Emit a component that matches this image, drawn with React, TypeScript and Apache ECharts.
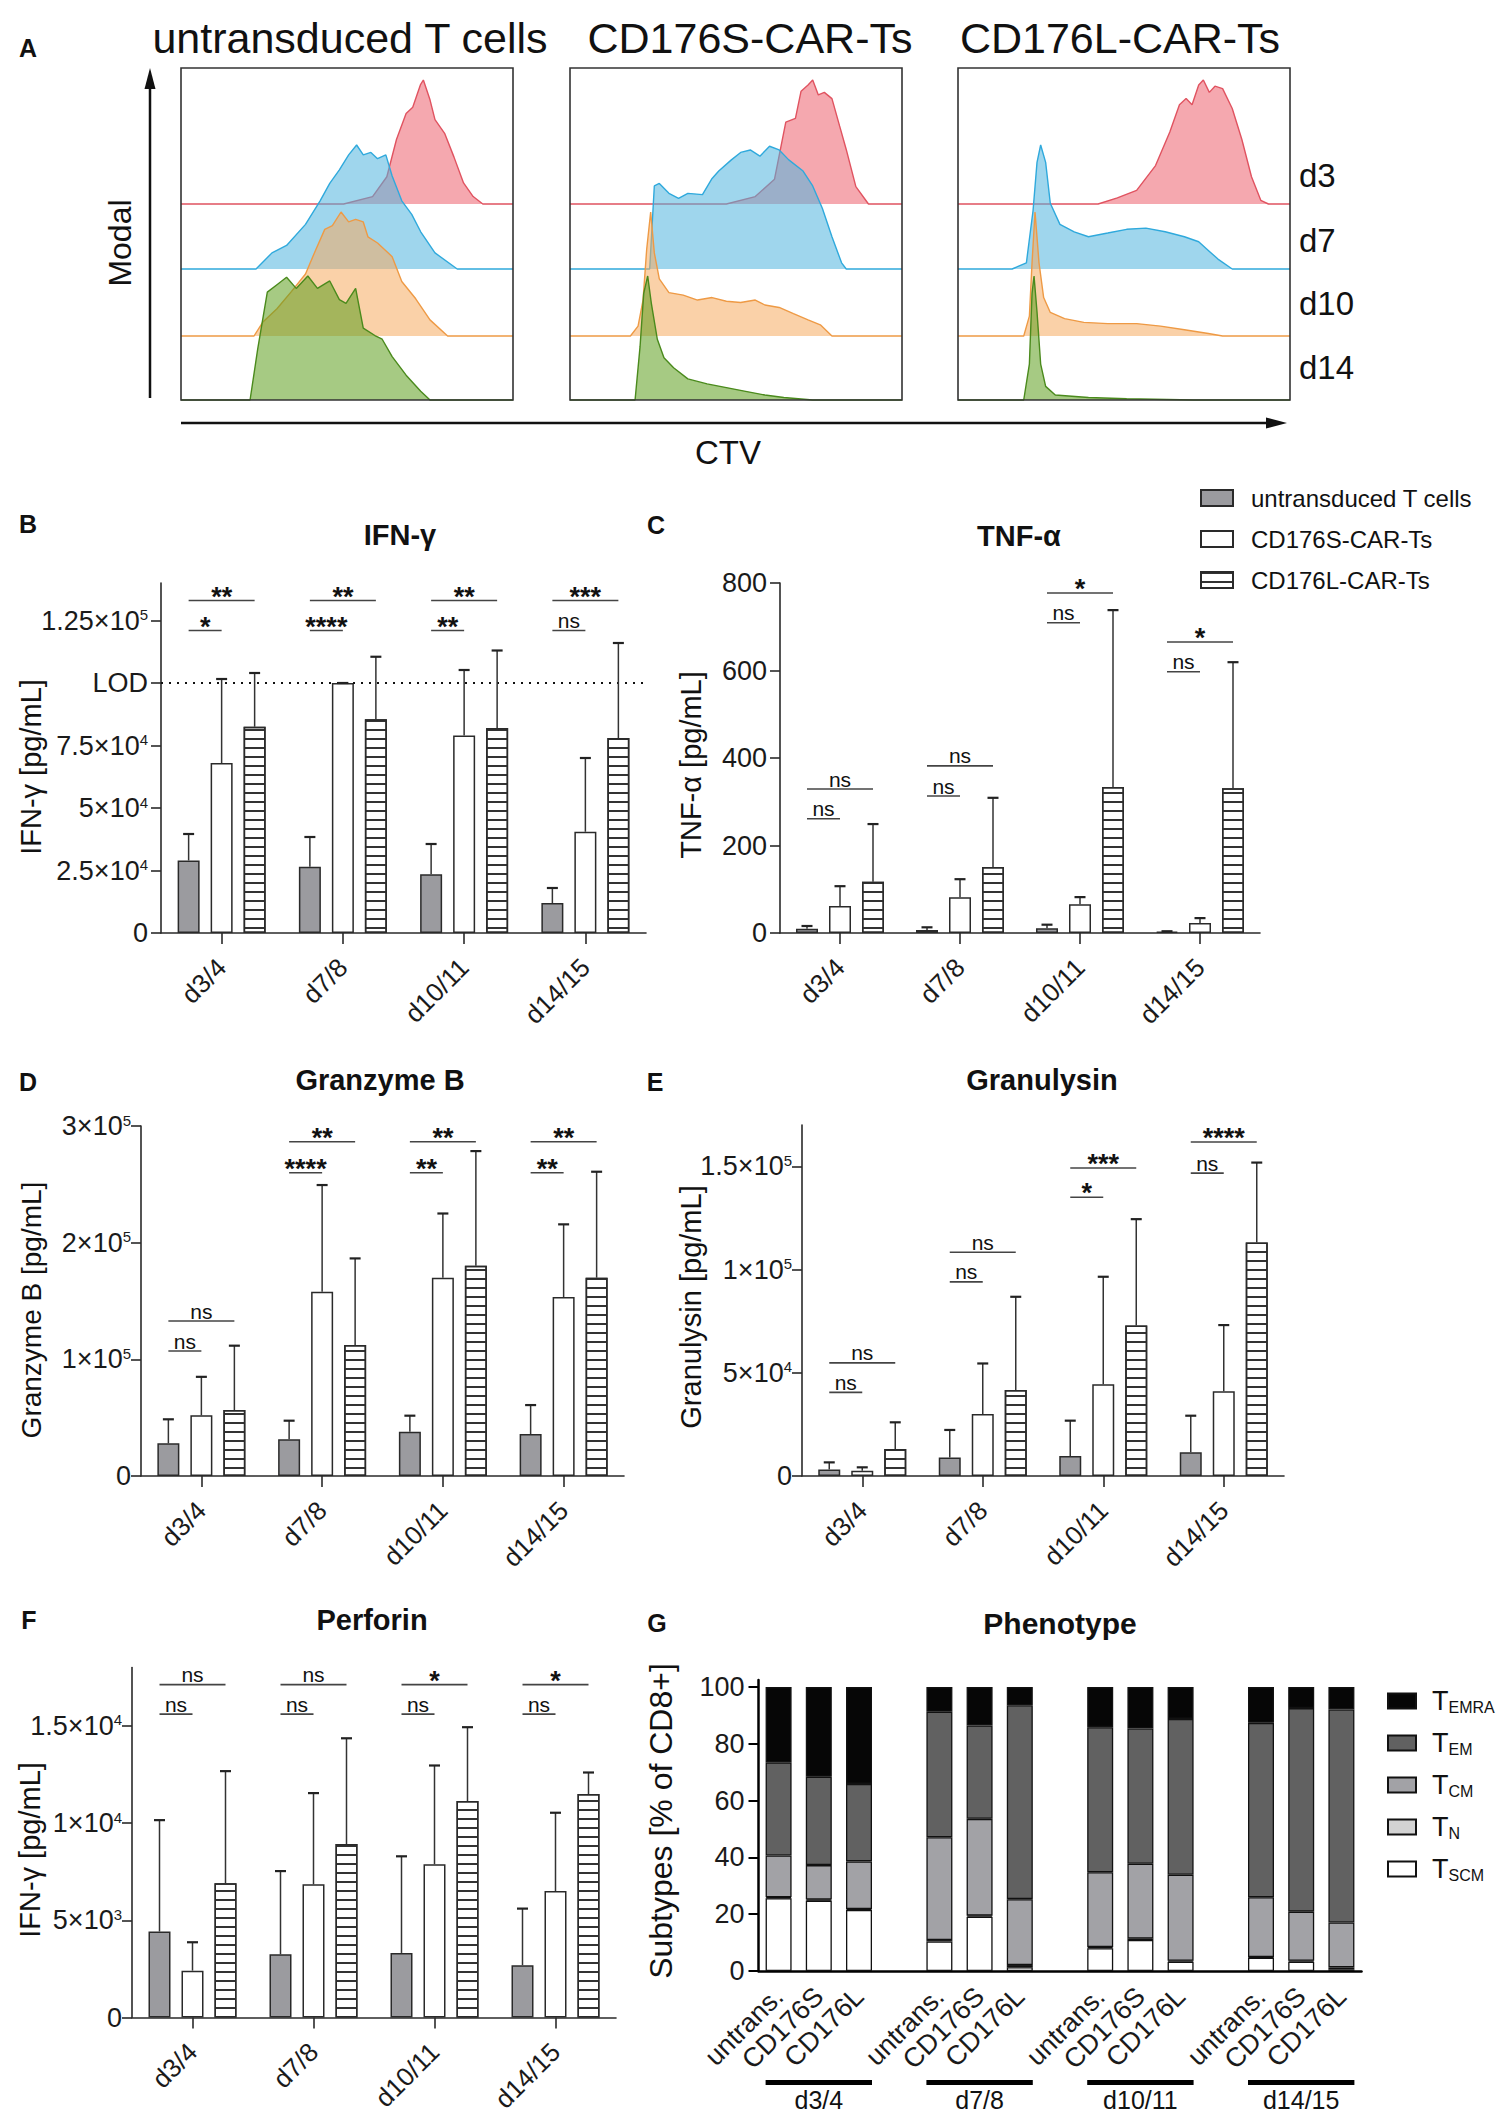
import React, { useEffect, useRef } from 'react';
import * as echarts from 'echarts';

const FONT = 'Arial, "Liberation Sans", Helvetica, sans-serif';

// ---------- Panel A: CTV histograms ([x % of box width, y % of mode]) ----------
const histTitles = ['untransduced T cells', 'CD176S-CAR-Ts', 'CD176L-CAR-Ts'];
const histDays = ['d3', 'd7', 'd10', 'd14'];

const untransD3 = [[0,0],[49,0],[57.7,6],[62,22],[64.9,52],[67.8,73],[69.8,78],[72.1,96],[73,100],[75,84],[76.5,68],[79.4,57],[82.2,38],[85.1,17],[88,6],[90.9,0],[100,0]];
const untransD7 = [[0,0],[22.6,0],[27.4,13],[31.8,19],[37.5,36],[41.9,55],[44.8,69],[47.7,80],[50.5,92],[52.9,100],[54.9,92],[57.2,94],[59.2,89],[61.7,92],[63.6,75],[66.5,55],[69.5,44],[72.2,30],[76.5,13],[83.2,0],[100,0]];
const untransD10 = [[0,0],[22,0],[24.6,11],[28.9,22],[33.3,36],[37.5,50],[40.5,69],[43.3,86],[45.6,89],[48.2,100],[50.5,92],[52.6,94],[54.9,92],[56.3,80],[59.2,75],[63.6,64],[66.5,44],[70.7,30],[75,13],[80.3,0],[100,0]];
const untransD14 = [[0,0],[20.8,0],[23.1,41],[26,87],[28.9,93],[31.8,99],[34.7,90],[38.2,100],[41.1,90],[44.8,96],[47.7,81],[49.7,78],[52.6,90],[54.9,58],[58.4,52],[60.6,49],[63.6,35],[67.8,20],[72.2,7],[75,0],[100,0]];

const shortD3 = [[0,0],[47.1,0],[55.8,6],[61.6,20],[65,66],[67.9,69],[69.6,91],[71.7,96],[73.1,100],[74.8,88],[76.6,90],[78.9,85],[81.2,63],[83.2,44],[86.1,14],[89.9,0],[100,0]];
const shortD7 = [[0,0],[24,0],[25.4,67],[26.9,69],[29.8,61],[32.7,57],[35.5,61],[39.9,60],[42.8,73],[44.8,79],[48.6,88],[51.4,94],[54.3,96],[57.2,91],[60.1,99],[63,96],[65.9,88],[70.2,79],[73.1,67],[76,49],[78.9,26],[81.8,5],[83.2,0],[100,0]];
const shortD10 = [[0,0],[18.2,0],[20.5,8],[22,29],[23.1,70],[24.3,100],[25.4,67],[26.9,46],[29.8,35],[34.1,33],[38.4,29],[42.8,31],[47.1,28],[51.4,27],[55.8,29],[58.7,25],[63,23],[67.3,18],[71.7,13],[75.4,9],[78.9,0],[100,0]];
const shortD14 = [[0,0],[19.6,0],[21.1,43],[22.2,86],[23.4,100],[24.5,78],[26.3,49],[28.3,34],[31.2,26],[35.5,17],[41.3,13],[47.1,10],[52.9,7],[58.7,4],[64.4,2],[73.1,0],[100,0]];

const longD3 = [[0,0],[42.2,0],[48,5],[53.8,11],[59.5,31],[63.8,58],[66.7,80],[68.7,85],[70.5,80],[72.5,96],[73.9,100],[75.7,90],[77.4,95],[79.7,93],[82.6,77],[85.5,52],[88.4,22],[91.2,3],[93.5,0],[100,0]];
const longD7 = [[0,0],[16.3,0],[20.6,5],[22.6,47],[23.8,86],[24.9,100],[26.4,86],[27.8,53],[30.7,36],[35,30],[39.3,26],[45.1,29],[50.8,32],[56.6,33],[62.4,30],[68.2,26],[72.5,22],[75.4,15],[78.3,8],[82.6,0],[100,0]];
const longD10 = [[0,0],[19.8,0],[21.5,16],[22.3,59],[23.2,100],[24.4,59],[25.8,31],[27.8,19],[32.1,14],[37.9,11],[45.1,10],[53.8,10],[61,8],[68.2,5],[75.4,2],[79.7,0],[100,0]];
const longD14 = [[0,0],[19.8,0],[21.5,29],[22.3,86],[22.9,100],[23.8,71],[24.9,29],[26.4,11],[29.3,4],[39.3,2],[50.8,1],[71,0],[100,0]];

// ---------- Panels B–F ----------
const days = ['d3/4', 'd7/8', 'd10/11', 'd14/15'];
const groups = ['untransduced T cells', 'CD176S-CAR-Ts', 'CD176L-CAR-Ts'];

// B IFN-γ
const ifnUntrans = [29000, 26500, 23500, 12000];
const ifnUntransSD = [10600, 11900, 12100, 6000];
const ifnShort = [68000, 100000, 79000, 40500];
const ifnShortSD = [33600, 0, 26200, 29500];
const ifnLong = [82500, 85500, 82000, 78000];
const ifnLongSD = [21500, 25000, 31000, 38000];
const ifnTicks = [0, 25000, 50000, 75000, 100000, 125000];
const ifnTickLabels = ['0', '2.5×10{sup|4}', '5×10{sup|4}', '7.5×10{sup|4}', 'LOD', '1.25×10{sup|5}'];
const ifnSigTop = ['**', '**', '**', '***'];
const ifnSigTopY = [133000, 133000, 133000, 133000];
const ifnSigBottom = ['*', '****', '**', 'ns'];
const ifnSigBottomY = [121000, 121000, 121000, 121000];
const ifnLOD = 100000;

// C TNF-α
const tnfUntrans = [10, 7, 11, 3];
const tnfUntransSD = [6, 6, 8, 1];
const tnfShort = [62, 82, 66, 23];
const tnfShortSD = [45, 41, 16, 11];
const tnfLong = [117, 151, 334, 331];
const tnfLongSD = [132, 158, 404, 288];
const tnfTicks = [0, 200, 400, 600, 800];
const tnfTickLabels = ['0', '200', '400', '600', '800'];
const tnfSigTop = ['ns', 'ns', '*', '*'];
const tnfSigTopY = [329, 382, 777, 665];
const tnfSigBottom = ['ns', 'ns', 'ns', 'ns'];
const tnfSigBottomY = [261, 313, 709, 597];

// D Granzyme B
const gzbUntrans = [28000, 31400, 38000, 36000];
const gzbUntransSD = [20600, 16000, 13700, 24800];
const gzbShort = [52000, 158000, 170000, 153400];
const gzbShortSD = [33000, 91400, 55000, 62300];
const gzbLong = [56500, 112300, 180200, 170000];
const gzbLongSD = [55200, 74200, 98300, 90800];
const gzbTicks = [0, 100000, 200000, 300000];
const gzbTickLabels = ['0', '1×10{sup|5}', '2×10{sup|5}', '3×10{sup|5}'];
const gzbSigTop = ['ns', '**', '**', '**'];
const gzbSigTopY = [132800, 286500, 286500, 286500];
const gzbSigBottom = ['ns', '****', '**', '**'];
const gzbSigBottomY = [107100, 259900, 259900, 259900];

// E Granulysin
const gnlyUntrans = [3200, 9000, 9700, 11500];
const gnlyUntransSD = [3400, 13300, 17100, 17700];
const gnlyShort = [2600, 30000, 44400, 41100];
const gnlyShortSD = [1600, 24500, 52100, 32000];
const gnlyLong = [13100, 41600, 72900, 113100];
const gnlyLongSD = [12900, 45200, 51500, 38700];
const gnlyTicks = [0, 50000, 100000, 150000];
const gnlyTickLabels = ['0', '5×10{sup|4}', '1×10{sup|5}', '1.5×10{sup|5}'];
const gnlySigTop = ['ns', 'ns', '***', '****'];
const gnlySigTopY = [54800, 108400, 149200, 161800];
const gnlySigBottom = ['ns', 'ns', '*', 'ns'];
const gnlySigBottomY = [40500, 94000, 135000, 146700];

// F Perforin
const prfUntrans = [4420, 3250, 3320, 2690];
const prfUntransSD = [5730, 4280, 4970, 2910];
const prfShort = [2410, 6850, 7880, 6500];
const prfShortSD = [1460, 4690, 5080, 4030];
const prfLong = [6900, 8920, 11130, 11490];
const prfLongSD = [5770, 5440, 3800, 1110];
const prfTicks = [0, 5000, 10000, 15000];
const prfTickLabels = ['0', '5×10{sup|3}', '1×10{sup|4}', '1.5×10{sup|4}'];
const prfSigTop = ['ns', 'ns', '*', '*'];
const prfSigTopY = [17120, 17120, 17120, 17120];
const prfSigBottom = ['ns', 'ns', 'ns', 'ns'];
const prfSigBottomY = [15600, 15600, 15600, 15600];

// G Phenotype (% of CD8+), '-' = gap slot between day groups
const phenoCats = ['untrans.', 'CD176S', 'CD176L', '', 'untrans.', 'CD176S', 'CD176L', '', 'untrans.', 'CD176S', 'CD176L', '', 'untrans.', 'CD176S', 'CD176L'];
const phenoGroupSlots = [[0, 0, 2], [4, 0, 6], [8, 0, 10], [12, 0, 14]];
const tscm = [25.6, 24.8, 21.5, '-', 10.4, 19.1, 1.3, '-', 8.0, 10.9, 3.3, '-', 4.7, 3.3, 0.6];
const tn = [0.4, 0.4, 0.3, '-', 0.5, 0.4, 0.8, '-', 0.4, 0.5, 0.3, '-', 0.2, 0.3, 0.7];
const tcm = [14.7, 12.1, 16.8, '-', 36.2, 34.1, 23.2, '-', 26.4, 26.4, 30.3, '-', 21.1, 17.3, 15.8];
const tem = [32.8, 31.1, 27.3, '-', 44.2, 32.9, 68.3, '-', 51.1, 47.6, 54.9, '-', 61.4, 71.7, 75.0];
const temra = [26.5, 31.6, 34.1, '-', 8.7, 13.5, 6.4, '-', 14.1, 14.6, 11.2, '-', 12.6, 7.4, 7.9];
const phenoTicks = [0, 20, 40, 60, 80, 100];

// ---------- styling ----------
const PITCH = 33;
const AX = '#2a2a2a';
const barStyles: any[] = [
  { color: '#9b9b9f', borderColor: AX, borderWidth: 1.5 },
  { color: '#ffffff', borderColor: AX, borderWidth: 1.5 },
  {
    color: '#ffffff', borderColor: AX, borderWidth: 1.5,
    decal: { symbol: 'rect', symbolSize: 1, dashArrayX: [1, 0], dashArrayY: [1.6, 6.4], rotation: 0, color: '#333333' },
  },
];
const histColors = [
  { line: '#e05360', fill: '#ed616e' },
  { line: '#2fa9dc', fill: '#50b4de' },
  { line: '#ee9a45', fill: '#f6ac61' },
  { line: '#4a8a1c', fill: '#5c9e1e' },
];

function txt(text: string, x: number, y: number, size: number, o: any = {}) {
  return {
    type: 'text', x, y, z: 100, rotation: o.rot || 0,
    style: {
      text, fontSize: size, fontWeight: o.bold ? 'bold' : 'normal', fontFamily: FONT,
      fill: '#111', align: o.align || 'center', verticalAlign: 'middle',
    },
  };
}

function buildOption() {
  const grid: any[] = [];
  const xAxis: any[] = [];
  const yAxis: any[] = [];
  const series: any[] = [];
  const graphic: any[] = [];

  // ----- Panel A -----
  const boxLefts = [181, 570, 958];
  const boxW = 332;
  const baselines = [204, 269, 336, 400];
  const histH = 124;
  const histData = [
    [untransD3, untransD7, untransD10, untransD14],
    [shortD3, shortD7, shortD10, shortD14],
    [longD3, longD7, longD10, longD14],
  ];
  histData.forEach((box, b) => {
    box.forEach((pts, d) => {
      const gi = grid.length;
      grid.push({ left: boxLefts[b], top: baselines[d] - histH, width: boxW, height: histH, show: false });
      xAxis.push({ gridIndex: gi, type: 'value', min: 0, max: 100, show: false });
      yAxis.push({ gridIndex: gi, type: 'value', min: 0, max: 100, show: false });
      series.push({
        type: 'line', xAxisIndex: gi, yAxisIndex: gi, data: pts, symbol: 'none', showSymbol: false,
        clip: false, silent: true, z: 2 + d,
        lineStyle: { color: histColors[d].line, width: 1.4 },
        areaStyle: { color: histColors[d].fill, opacity: 0.55 },
      });
    });
    graphic.push({
      type: 'rect', z: 100, shape: { x: boxLefts[b], y: 68, width: boxW, height: 332 },
      style: { fill: 'none', stroke: '#333', lineWidth: 1.6 },
    });
  });
  graphic.push(txt(histTitles[0], 350, 38, 43));
  graphic.push(txt(histTitles[1], 750, 38, 43));
  graphic.push(txt(histTitles[2], 1120, 38, 43));
  [175, 240, 303, 367].forEach((y, i) => graphic.push(txt(histDays[i], 1299, y, 33, { align: 'left' })));
  graphic.push(txt('Modal', 120, 243, 32, { rot: Math.PI / 2 }));
  graphic.push(txt('CTV', 728, 452, 33));
  graphic.push({ type: 'line', z: 100, shape: { x1: 150, y1: 398, x2: 150, y2: 84 }, style: { stroke: '#111', lineWidth: 2.5 } });
  graphic.push({ type: 'polygon', z: 100, shape: { points: [[150, 68], [144.5, 89], [155.5, 89]] }, style: { fill: '#111' } });
  graphic.push({ type: 'line', z: 100, shape: { x1: 181, y1: 423, x2: 1268, y2: 423 }, style: { stroke: '#111', lineWidth: 2.5 } });
  graphic.push({ type: 'polygon', z: 100, shape: { points: [[1287, 423], [1266, 417.5], [1266, 428.5]] }, style: { fill: '#111' } });

  // ----- Bar panels -----
  function addBarPanel(p: any) {
    const gi = grid.length;
    grid.push({ left: p.left, top: p.top, width: p.width, height: p.height });
    xAxis.push({
      gridIndex: gi, type: 'category', data: days,
      axisLine: { show: true, lineStyle: { color: AX, width: 1.6 } },
      axisTick: { show: true, alignWithLabel: true, length: 11, lineStyle: { color: AX, width: 1.6 } },
      axisLabel: { rotate: 45, interval: 0, fontSize: 26, color: '#1a1a1a', fontFamily: FONT, margin: 30 },
    });
    yAxis.push({
      gridIndex: gi, type: 'value', min: 0, max: p.max,
      splitLine: { show: false },
      axisLine: { show: true, lineStyle: { color: AX, width: 1.6 } },
      axisTick: { show: true, length: 10, customValues: p.ticks, lineStyle: { color: AX, width: 1.6 } },
      axisLabel: {
        customValues: p.ticks, fontSize: 27, lineHeight: 27, color: '#1a1a1a', fontFamily: FONT, margin: p.lm,
        formatter: (v: number) => p.labels[p.ticks.indexOf(v)] ?? '',
        rich: { sup: { fontSize: 15, lineHeight: 15, verticalAlign: 'top', color: '#1a1a1a', fontFamily: FONT } },
      },
    });
    const means = [p.m0, p.m1, p.m2];
    const sds = [p.s0, p.s1, p.s2];
    means.forEach((m: number[], k: number) => {
      const s: any = {
        type: 'bar', name: groups[k], xAxisIndex: gi, yAxisIndex: gi, data: m,
        barWidth: 22, barGap: '50%', itemStyle: barStyles[k], z: 2,
      };
      if (k === 0 && p.lod) {
        s.markLine = {
          silent: true, symbol: 'none', label: { show: false },
          lineStyle: { type: [2, 6], color: '#111', width: 2.2 },
          data: [{ yAxis: p.lod }],
        };
      }
      series.push(s);
    });
    const errRows: number[][] = [];
    means.forEach((m: number[], k: number) => m.forEach((v, i) => errRows.push([i, v, v + sds[k][i], k - 1])));
    series.push({
      type: 'custom', xAxisIndex: gi, yAxisIndex: gi, clip: false, z: 5, silent: true,
      data: errRows,
      renderItem: (params: any, api: any) => {
        const top = api.coord([api.value(0), api.value(2)]);
        const base = api.coord([api.value(0), api.value(1)]);
        const x = top[0] + api.value(3) * PITCH;
        return {
          type: 'group', children: [
            { type: 'line', shape: { x1: x, y1: base[1], x2: x, y2: top[1] }, style: { stroke: '#333', lineWidth: 1.5 } },
            { type: 'line', shape: { x1: x - 5.5, y1: top[1], x2: x + 5.5, y2: top[1] }, style: { stroke: '#222', lineWidth: 2.2 } },
          ],
        };
      },
    });
    const sigRows: number[][] = [];
    const sigLabels: string[] = [];
    for (let i = 0; i < 4; i++) {
      sigRows.push([i, p.topY[i], 1]); sigLabels.push(p.topL[i]);
      sigRows.push([i, p.botY[i], 0]); sigLabels.push(p.botL[i]);
    }
    series.push({
      type: 'custom', xAxisIndex: gi, yAxisIndex: gi, clip: false, z: 6, silent: true,
      data: sigRows,
      renderItem: (params: any, api: any) => {
        const c = api.coord([api.value(0), api.value(1)]);
        const x0 = c[0] - PITCH;
        const x1 = api.value(2) === 1 ? c[0] + PITCH : c[0];
        const lab = sigLabels[params.dataIndex];
        const ns = lab === 'ns';
        return {
          type: 'group', children: [
            { type: 'line', shape: { x1: x0, y1: c[1], x2: x1, y2: c[1] }, style: { stroke: '#444', lineWidth: 1.6 } },
            {
              type: 'text', x: (x0 + x1) / 2, y: ns ? c[1] - 10 : c[1] - 4,
              style: {
                text: lab, fontSize: ns ? 21 : 27, lineHeight: ns ? 21 : 26, fontWeight: ns ? 'normal' : 'bold', fontFamily: FONT,
                fill: '#111', align: 'center', verticalAlign: 'middle',
              },
            },
          ],
        };
      },
    });
  }

  addBarPanel({
    left: 161, width: 485, top: 583, height: 350, max: 140000, ticks: ifnTicks, labels: ifnTickLabels, lm: 13,
    m0: ifnUntrans, m1: ifnShort, m2: ifnLong, s0: ifnUntransSD, s1: ifnShortSD, s2: ifnLongSD,
    topY: ifnSigTopY, topL: ifnSigTop, botY: ifnSigBottomY, botL: ifnSigBottom, lod: ifnLOD,
  });
  addBarPanel({
    left: 780, width: 480, top: 583, height: 350, max: 800, ticks: tnfTicks, labels: tnfTickLabels, lm: 13,
    m0: tnfUntrans, m1: tnfShort, m2: tnfLong, s0: tnfUntransSD, s1: tnfShortSD, s2: tnfLongSD,
    topY: tnfSigTopY, topL: tnfSigTop, botY: tnfSigBottomY, botL: tnfSigBottom,
  });
  addBarPanel({
    left: 141, width: 483, top: 1126, height: 350, max: 300000, ticks: gzbTicks, labels: gzbTickLabels, lm: 10,
    m0: gzbUntrans, m1: gzbShort, m2: gzbLong, s0: gzbUntransSD, s1: gzbShortSD, s2: gzbLongSD,
    topY: gzbSigTopY, topL: gzbSigTop, botY: gzbSigBottomY, botL: gzbSigBottom,
  });
  addBarPanel({
    left: 802, width: 482, top: 1125, height: 351, max: 170000, ticks: gnlyTicks, labels: gnlyTickLabels, lm: 10,
    m0: gnlyUntrans, m1: gnlyShort, m2: gnlyLong, s0: gnlyUntransSD, s1: gnlyShortSD, s2: gnlyLongSD,
    topY: gnlySigTopY, topL: gnlySigTop, botY: gnlySigBottomY, botL: gnlySigBottom,
  });
  addBarPanel({
    left: 132, width: 484, top: 1667.5, height: 350, max: 18000, ticks: prfTicks, labels: prfTickLabels, lm: 10,
    m0: prfUntrans, m1: prfShort, m2: prfLong, s0: prfUntransSD, s1: prfShortSD, s2: prfLongSD,
    topY: prfSigTopY, topL: prfSigTop, botY: prfSigBottomY, botL: prfSigBottom,
  });

  // ----- Panel G -----
  const gg = grid.length;
  grid.push({ left: 758.5, top: 1680, width: 603, height: 291 });
  xAxis.push({
    gridIndex: gg, type: 'category', data: phenoCats,
    axisLine: { show: true, lineStyle: { color: '#000', width: 2.5 } },
    axisTick: { show: false },
    axisLabel: { rotate: 45, interval: 0, fontSize: 27, color: '#1a1a1a', fontFamily: FONT, margin: 21 },
  });
  yAxis.push({
    gridIndex: gg, type: 'value', min: 0, max: 102.5, splitLine: { show: false },
    axisLine: { show: true, lineStyle: { color: '#000', width: 2.5 } },
    axisTick: { show: true, length: 10, customValues: phenoTicks, lineStyle: { color: '#000', width: 2 } },
    axisLabel: { customValues: phenoTicks, fontSize: 27, color: '#1a1a1a', fontFamily: FONT, margin: 14 },
  });
  const phenoSeries = [
    { name: 'TSCM', data: tscm, color: '#ffffff' },
    { name: 'TN', data: tn, color: '#d3d3d3' },
    { name: 'TCM', data: tcm, color: '#a2a2a6' },
    { name: 'TEM', data: tem, color: '#616161' },
    { name: 'TEMRA', data: temra, color: '#060606' },
  ];
  phenoSeries.forEach((s) => {
    series.push({
      type: 'bar', name: s.name, stack: 'pheno', xAxisIndex: gg, yAxisIndex: gg, data: s.data,
      barWidth: 26, itemStyle: { color: s.color, borderColor: '#111', borderWidth: 1.3 },
    });
  });
  series.push({
    type: 'custom', xAxisIndex: gg, yAxisIndex: gg, clip: false, silent: true, z: 6,
    data: phenoGroupSlots,
    renderItem: (params: any, api: any) => {
      const a = api.coord([api.value(0), 0]);
      const b = api.coord([api.value(2), 0]);
      const y = a[1] + 111.5;
      return {
        type: 'group', children: [
          { type: 'rect', shape: { x: a[0] - 13, y: y - 2.6, width: b[0] - a[0] + 26, height: 5.2 }, style: { fill: '#000' } },
          {
            type: 'text', x: (a[0] + b[0]) / 2, y: y + 17,
            style: { text: days[params.dataIndex], fontSize: 25, fontFamily: FONT, fill: '#111', align: 'center', verticalAlign: 'middle' },
          },
        ],
      };
    },
  });

  // ----- Panel labels, titles, axis names -----
  [['A', 28, 48], ['B', 28, 524], ['C', 656, 525], ['D', 28, 1082], ['E', 655, 1082], ['F', 29, 1620], ['G', 657, 1623]].forEach(
    (l: any) => graphic.push(txt(l[0], l[1], l[2], 25, { bold: true })),
  );
  graphic.push(txt('IFN-γ', 400, 535, 29, { bold: true }));
  graphic.push(txt('TNF-α', 1019, 536, 29, { bold: true }));
  graphic.push(txt('Granzyme B', 380, 1080, 29, { bold: true }));
  graphic.push(txt('Granulysin', 1042, 1080, 29, { bold: true }));
  graphic.push(txt('Perforin', 372, 1620, 29, { bold: true }));
  graphic.push(txt('Phenotype', 1060, 1623, 30, { bold: true }));
  graphic.push(txt('IFN-γ [pg/mL]', 31, 767, 29, { rot: Math.PI / 2 }));
  graphic.push(txt('TNF-α [pg/mL]', 691, 765, 29, { rot: Math.PI / 2 }));
  graphic.push(txt('Granzyme B [pg/mL]', 31, 1310, 28, { rot: Math.PI / 2 }));
  graphic.push(txt('Granulysin [pg/mL]', 691, 1307, 29, { rot: Math.PI / 2 }));
  graphic.push(txt('IFN-γ [pg/mL]', 30, 1850, 29, { rot: Math.PI / 2 }));
  graphic.push(txt('Subtypes [% of CD8+]', 661, 1821, 32, { rot: Math.PI / 2 }));

  const legend = [
    {
      data: groups, orient: 'vertical', left: 1195, top: 481, icon: 'rect',
      itemWidth: 32, itemHeight: 16, itemGap: 17, selectedMode: false,
      textStyle: { fontSize: 24, lineHeight: 24, fontFamily: FONT, color: '#111', padding: [0, 0, 0, 13] },
    },
    {
      data: ['TEMRA', 'TEM', 'TCM', 'TN', 'TSCM'], orient: 'vertical', left: 1382, top: 1682, icon: 'rect',
      itemWidth: 28, itemHeight: 15, itemGap: 14, selectedMode: false,
      formatter: (n: string) => 'T{sub|' + n.slice(1) + '}',
      textStyle: {
        fontSize: 27, lineHeight: 28, fontFamily: FONT, color: '#111', padding: [0, 0, 0, 11],
        rich: { sub: { fontSize: 16, lineHeight: 16, verticalAlign: 'bottom', fontFamily: FONT, color: '#111' } },
      },
    },
  ];

  return {
    animation: false,
    backgroundColor: '#ffffff',
    textStyle: { fontFamily: FONT },
    grid, xAxis, yAxis, series, graphic, legend,
  };
}

export default function App() {
  const ref = useRef<HTMLDivElement>(null);
  useEffect(() => {
    if (!ref.current) return;
    const chart = echarts.init(ref.current, undefined, { renderer: 'svg' });
    chart.setOption(buildOption() as any);
    return () => chart.dispose();
  }, []);
  return (
    <div
      ref={ref}
      style={{ position: 'absolute', left: 0, top: 0, width: 1497, height: 2119, background: '#fff' }}
    />
  );
}
